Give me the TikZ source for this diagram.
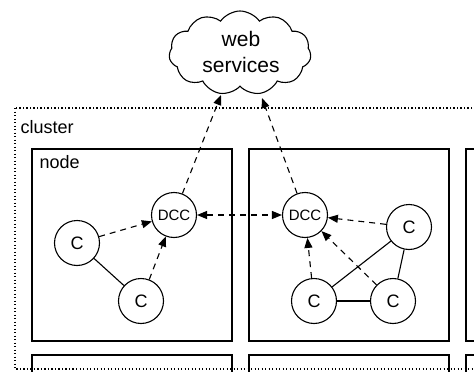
\documentclass[tikz,border=0pt]{standalone}
\usepackage{fontspec}
\setmainfont{Liberation Sans}
\usetikzlibrary{positioning, arrows.meta, shapes.symbols}

\begin{document}
\begin{tikzpicture}[x=1pt, y=-1pt,
  comp/.style={draw, circle, line width=1.1pt, minimum size=45pt, inner sep=0pt, font=\fontsize{18}{20}\selectfont},
  dcc/.style={comp, font=\fontsize{15}{16}\selectfont},
  hostbox/.style={draw, line width=1.1pt},
  link/.style={line width=1.1pt},
  msg/.style={-{Triangle[length=10pt,width=8pt]}, line width=1.1pt, dash pattern=on 6pt off 5pt}]
  \clip (0,0) rectangle (474,372);
  % cluster and hosts
  \draw[line width=1.1pt, dash pattern=on 1.2pt off 2.3pt] (15,108) rectangle (490,369);
  \node[anchor=west, font=\fontsize{18}{20}\selectfont] (clusterlbl) at (17,127) {cluster};
  \draw[hostbox] (32,149) rectangle (232,341);
  \draw[hostbox] (249,149) rectangle (449,341);
  \draw[hostbox] (466,149) rectangle (500,341);
  \draw[hostbox] (32,355) rectangle (232,380);
  \draw[hostbox] (249,355) rectangle (449,380);
  \draw[hostbox] (466,355) rectangle (500,380);
  \node[anchor=west, font=\fontsize{18}{20}\selectfont] (nodelbl) at (36,162) {node};
  % web services
  \node[draw, cloud, cloud puffs=11, cloud puff arc=110, aspect=1.7, line width=1.1pt,
        minimum width=142pt, minimum height=84pt, inner sep=0pt] (web) at (240,53) {};
  \node[align=center, font=\fontsize{21}{26}\selectfont] (webtxt) at (241,52) {web\\services};
  \coordinate (webinA) at (221,95);
  \coordinate (webinB) at (262,98);
  % components
  \node[dcc] (dccA) at (174,215) {DCC};
  \node[comp] (cA1) at (77,243) {C};
  \node[comp] (cA2) at (141,301) {C};
  \node[dcc] (dccB) at (305,215) {DCC};
  \node[comp] (cB1) at (409,227) {C};
  \node[comp] (cB2) at (314,301) {C};
  \node[comp] (cB3) at (393,301) {C};
  % links
  \draw[link] (cA1) -- (cA2);
  \draw[link] (cB2) -- (cB3);
  \draw[link] (cB2) -- (cB1);
  \draw[link] (cB3) -- (cB1);
  \draw[msg] (cA1) -- (dccA);
  \draw[msg] (cA2) -- (dccA);
  \draw[msg] (cB1) -- (dccB);
  \draw[msg] (cB2) -- (dccB);
  \draw[msg] (cB3) -- (dccB);
  \draw[msg, {Triangle[length=10pt,width=8pt]}-{Triangle[length=10pt,width=8pt]}] (dccA) -- (dccB);
  \draw[msg] (dccA) -- (webinA);
  \draw[msg] (dccB) -- (webinB);
\end{tikzpicture}
\end{document}
